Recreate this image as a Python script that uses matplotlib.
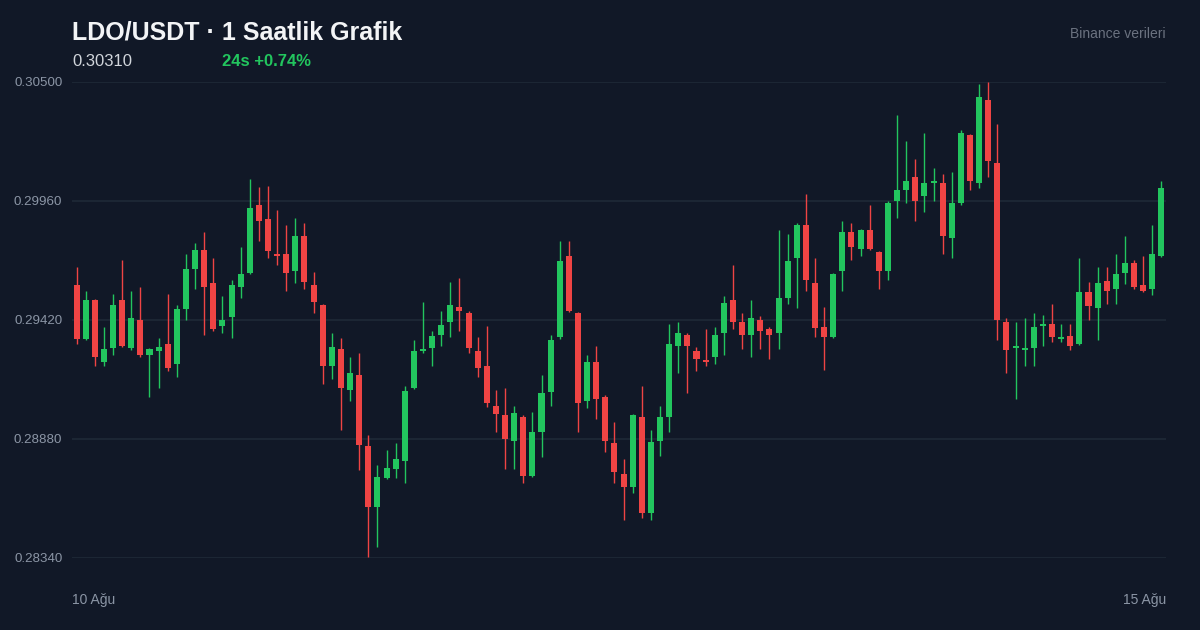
import numpy as np
import matplotlib.pyplot as plt

# Step 1. Data (120 hourly candles, 10-15 Aug)
opens = [0.29579, 0.29334, 0.29511, 0.29229, 0.29293, 0.29511, 0.29293, 0.29420, 0.29261, 0.29279,
         0.29311, 0.29220, 0.29470, 0.29651, 0.29738, 0.29588, 0.29393, 0.29434, 0.29570, 0.29633,
         0.29942, 0.29878, 0.29719, 0.29719, 0.29642, 0.29801, 0.29579, 0.29488, 0.29211, 0.29288,
         0.29102, 0.29170, 0.28848, 0.28571, 0.28703, 0.28744, 0.28780, 0.29111, 0.29282, 0.29293,
         0.29352, 0.29411, 0.29479, 0.29452, 0.29279, 0.29211, 0.29030, 0.28989, 0.28871, 0.28980,
         0.28712, 0.28912, 0.29093, 0.29343, 0.29710, 0.29452, 0.29052, 0.29229, 0.29071, 0.28862,
         0.28721, 0.28662, 0.28980, 0.28544, 0.28871, 0.28980, 0.29302, 0.29352, 0.29279, 0.29236,
         0.29252, 0.29361, 0.29511, 0.29411, 0.29352, 0.29420, 0.29379, 0.29361, 0.29520, 0.29701,
         0.29851, 0.29588, 0.29388, 0.29343, 0.29642, 0.29819, 0.29742, 0.29828, 0.29729, 0.29642,
         0.29960, 0.30010, 0.30069, 0.29983, 0.30044, 0.30042, 0.29792, 0.29951, 0.30260, 0.30042,
         0.30418, 0.30133, 0.29411, 0.29295, 0.29286, 0.29293, 0.29395, 0.29402, 0.29336, 0.29347,
         0.29311, 0.29547, 0.29474, 0.29597, 0.29561, 0.29633, 0.29679, 0.29579, 0.29561, 0.29710]
highs = [0.29660, 0.29552, 0.29516, 0.29388, 0.29538, 0.29692, 0.29552, 0.29570, 0.29293, 0.29338,
         0.29538, 0.29488, 0.29719, 0.29769, 0.29819, 0.29701, 0.29529, 0.29602, 0.29751, 0.30060,
         0.30024, 0.30028, 0.29919, 0.29851, 0.29883, 0.29860, 0.29638, 0.29493, 0.29361, 0.29338,
         0.29252, 0.29270, 0.28898, 0.28762, 0.28830, 0.28862, 0.29121, 0.29329, 0.29502, 0.29370,
         0.29461, 0.29592, 0.29611, 0.29461, 0.29343, 0.29393, 0.29102, 0.29111, 0.29030, 0.28989,
         0.29003, 0.29170, 0.29352, 0.29779, 0.29779, 0.29456, 0.29261, 0.29302, 0.29080, 0.28957,
         0.28789, 0.28993, 0.29121, 0.28921, 0.29030, 0.29402, 0.29411, 0.29361, 0.29297, 0.29379,
         0.29388, 0.29529, 0.29670, 0.29452, 0.29511, 0.29438, 0.29388, 0.29828, 0.29810, 0.29860,
         0.29992, 0.29701, 0.29479, 0.29633, 0.29869, 0.29860, 0.29833, 0.29942, 0.29733, 0.29960,
         0.30350, 0.30232, 0.30151, 0.30269, 0.30110, 0.30083, 0.30092, 0.30282, 0.30264, 0.30491,
         0.30500, 0.30309, 0.29429, 0.29411, 0.29429, 0.29452, 0.29443, 0.29493, 0.29402, 0.29402,
         0.29701, 0.29592, 0.29661, 0.29661, 0.29719, 0.29801, 0.29692, 0.29710, 0.29851, 0.30051]
lows = [0.29311, 0.29329, 0.29211, 0.29211, 0.29261, 0.29297, 0.29284, 0.29252, 0.29071, 0.29111,
        0.29189, 0.29161, 0.29420, 0.29561, 0.29352, 0.29370, 0.29361, 0.29338, 0.29520, 0.29629,
        0.29779, 0.29701, 0.29670, 0.29552, 0.29588, 0.29561, 0.29452, 0.29130, 0.29152, 0.28921,
        0.29052, 0.28739, 0.28344, 0.28390, 0.28698, 0.28703, 0.28680, 0.29107, 0.29270, 0.29211,
        0.29302, 0.29343, 0.29370, 0.29270, 0.29161, 0.29025, 0.28912, 0.28744, 0.28744, 0.28680,
        0.28708, 0.28798, 0.29030, 0.29334, 0.29456, 0.28912, 0.29021, 0.28971, 0.28821, 0.28680,
        0.28512, 0.28635, 0.28522, 0.28512, 0.28803, 0.28912, 0.29180, 0.29089, 0.29189, 0.29211,
        0.29220, 0.29261, 0.29379, 0.29288, 0.29252, 0.29288, 0.29243, 0.29288, 0.29493, 0.29474,
        0.29552, 0.29343, 0.29193, 0.29338, 0.29552, 0.29692, 0.29710, 0.29738, 0.29561, 0.29602,
        0.29883, 0.29951, 0.29869, 0.29910, 0.29960, 0.29719, 0.29701, 0.29942, 0.30010, 0.30019,
        0.30069, 0.29329, 0.29180, 0.29062, 0.29211, 0.29211, 0.29302, 0.29320, 0.29320, 0.29284,
        0.29307, 0.29420, 0.29329, 0.29493, 0.29493, 0.29583, 0.29561, 0.29547, 0.29533, 0.29706]
closes = [0.29334, 0.29511, 0.29252, 0.29288, 0.29488, 0.29302, 0.29429, 0.29261, 0.29288, 0.29297,
          0.29202, 0.29470, 0.29651, 0.29738, 0.29570, 0.29379, 0.29420, 0.29579, 0.29629, 0.29928,
          0.29869, 0.29733, 0.29710, 0.29633, 0.29801, 0.29592, 0.29502, 0.29211, 0.29297, 0.29111,
          0.29180, 0.28853, 0.28571, 0.28708, 0.28748, 0.28789, 0.29098, 0.29279, 0.29286, 0.29347,
          0.29397, 0.29488, 0.29461, 0.29293, 0.29202, 0.29043, 0.28993, 0.28880, 0.28998, 0.28712,
          0.28912, 0.29089, 0.29329, 0.29688, 0.29461, 0.29043, 0.29229, 0.29062, 0.28871, 0.28730,
          0.28662, 0.28989, 0.28544, 0.28866, 0.28980, 0.29311, 0.29361, 0.29302, 0.29243, 0.29232,
          0.29352, 0.29497, 0.29411, 0.29352, 0.29429, 0.29370, 0.29352, 0.29520, 0.29688, 0.29851,
          0.29602, 0.29384, 0.29343, 0.29629, 0.29819, 0.29751, 0.29828, 0.29742, 0.29642, 0.29951,
          0.30010, 0.30051, 0.29960, 0.30042, 0.30049, 0.29801, 0.29951, 0.30269, 0.30051, 0.30432,
          0.30142, 0.29420, 0.29284, 0.29300, 0.29291, 0.29388, 0.29400, 0.29343, 0.29341, 0.29302,
          0.29547, 0.29484, 0.29588, 0.29552, 0.29629, 0.29679, 0.29570, 0.29552, 0.29719, 0.30019]

y_ticks = [0.28340, 0.28880, 0.29420, 0.29960, 0.30500]
date_labels = ['10 Ağu', '15 Ağu']
title = 'LDO/USDT · 1 Saatlik Grafik'
last_price = '0.30310'
change_24h = '24s +0.74%'
source = 'Binance verileri'

# Step 2. Colours / fonts
bg = '#111827'
grid_col = '#1f2937'
up_col = '#22c55e'
down_col = '#ef4444'
plt.rcParams['font.family'] = ['Liberation Sans', 'DejaVu Sans']

W, H = 1200, 630
fig = plt.figure(figsize=(W / 100, H / 100), dpi=100, facecolor=bg)
ax = fig.add_axes([72 / W, 1 - 558 / H, (1166 - 72) / W, (558 - 82) / H])
ax.set_facecolor(bg)

# Step 3. Candles
o = np.array(opens)
h = np.array(highs)
l = np.array(lows)
c = np.array(closes)
x = np.arange(len(o))
cols = np.where(c >= o, up_col, down_col)

ax.vlines(x, l, h, colors=cols, lw=1.0, zorder=2, clip_on=False)
mid = (o + c) / 2
body = np.maximum(np.abs(c - o), 0.00008)
ax.bar(x, body, bottom=mid - body / 2, width=0.66, color=cols, lw=0, zorder=3, clip_on=False)

ax.set_xlim(-0.5, len(x) - 0.5)
ax.set_ylim(y_ticks[0], y_ticks[-1])
ax.set_yticks(y_ticks)
ax.set_yticklabels([f'{v:.5f}' for v in y_ticks])
ax.set_xticks([])
ax.grid(axis='y', color=grid_col, lw=1.2, zorder=0)
ax.tick_params(axis='y', length=0, pad=7, labelsize=9.6, labelcolor='#8b95a5')
for s in ax.spines.values():
    s.set_visible(False)

# Step 4. Header and footer texts
fig.text(72 / W, 1 - 39 / H, title, fontsize=18, fontweight='bold', color='#f3f4f6', va='baseline')
fig.text(72 / W, 1 - 66 / H, last_price, fontsize=12, color='#d1d5db', va='baseline')
fig.text(222 / W, 1 - 66 / H, change_24h, fontsize=12, fontweight='bold', color=up_col, va='baseline')
fig.text(1166 / W, 1 - 38 / H, source, fontsize=10, color='#6b7280', ha='right', va='baseline')
fig.text(72 / W, 1 - 604 / H, date_labels[0], fontsize=10, color='#8b95a5', va='baseline')
fig.text(1166 / W, 1 - 604 / H, date_labels[1], fontsize=10, color='#8b95a5', ha='right', va='baseline')

fig.savefig('out.png', dpi=100, facecolor=bg)
